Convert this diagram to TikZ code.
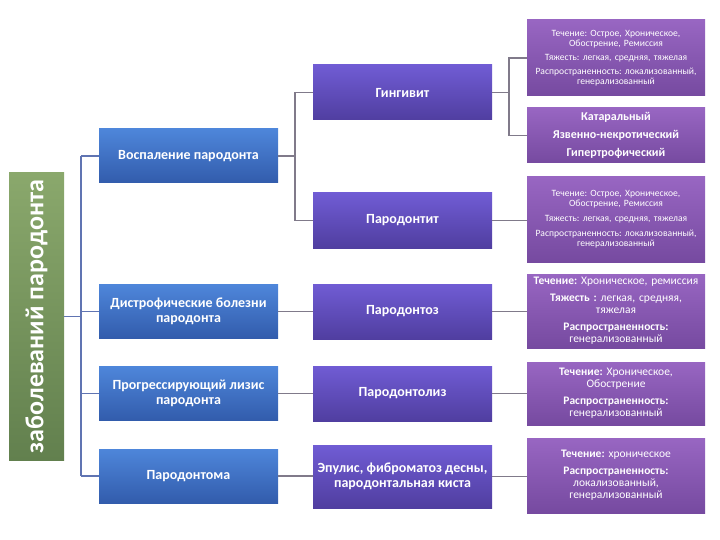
\documentclass[tikz,border=0pt]{standalone}
\usepackage{fontspec}
\setmainfont{Carlito}
\frenchspacing
\definecolor{bargreen}{RGB}{138,168,108}
\definecolor{bargreendark}{RGB}{98,128,78}
\definecolor{boxblue}{RGB}{78,134,218}
\definecolor{boxbluedark}{RGB}{50,92,172}
\definecolor{boxviolet}{RGB}{112,92,212}
\definecolor{boxvioletdark}{RGB}{80,62,160}
\definecolor{boxlilac}{RGB}{152,102,194}
\definecolor{boxlilacdark}{RGB}{118,74,160}
\definecolor{linegray}{RGB}{128,122,138}
\definecolor{lineblue}{RGB}{96,116,178}

\tikzset{
  basebox/.style={rectangle, inner sep=2pt, align=center, text=white},
  leftbox/.style={basebox, top color=boxblue, bottom color=boxbluedark,
    minimum width=179, minimum height=54, font=\fontsize{14}{15}\selectfont\bfseries},
  midbox/.style={basebox, top color=boxviolet, bottom color=boxvioletdark,
    minimum width=179, minimum height=55, font=\fontsize{14}{15}\selectfont\bfseries},
  rightbox/.style={basebox, top color=boxlilac, bottom color=boxlilacdark,
    minimum width=178, text width=174},
  smalltext/.style={font=\fontsize{9.6}{10}\selectfont},
  mediumtext/.style={font=\fontsize{11.5}{12}\selectfont},
  link/.style={draw=linegray, line width=1.5},
  trunklink/.style={draw=lineblue, line width=1.5}
}

\begin{document}
\begin{tikzpicture}[x=1pt, y=-1pt]
  \useasboundingbox (0,0) rectangle (720,540);

  % Заголовок
  \node[rectangle, top color=bargreen, bottom color=bargreendark,
        minimum width=55, minimum height=287] (bar) at (36.5,316.5) {};
  \node[rotate=90, text=white, font=\fontsize{26}{28}\selectfont\bfseries] (bartitle) at (bar.center) {заболеваний пародонта};

  % Группы
  \node[leftbox] (vosp)  at (188.5,156)   {Воспаление пародонта};
  \node[leftbox] (distr) at (188.5,311.5) {Дистрофические болезни\\пародонта};
  \node[leftbox] (lizis) at (188.5,393.5) {Прогрессирующий лизис\\пародонта};
  \node[leftbox] (toma)  at (188.5,476)   {Пародонтома};

  % Формы
  \node[midbox] (ging)   at (402.5,92.5)  {Гингивит};
  \node[midbox] (pdtit)  at (402.5,220.5) {Пародонтит};
  \node[midbox] (pdtoz)  at (402.5,311.5) {Пародонтоз};
  \node[midbox] (pdliz)  at (402.5,393.5) {Пародонтолиз};
  \node[midbox, minimum height=63] (epul) at (402.5,476.5) {Эпулис, фиброматоз десны,\\пародонтальная киста};

  % Характеристики
  \node[rightbox, smalltext, minimum height=76] (gingkurs) at (616,58)
    {Течение: Острое, Хроническое,\\Обострение, Ремиссия\\[4pt]
     Тяжесть: легкая, средняя, тяжелая\\[4pt]
     Распространенность: локализованный,\\генерализованный};
  \node[rightbox, minimum height=55, font=\fontsize{12}{18}\selectfont\bfseries] (gingform) at (616,135.5)
    {Катаральный\\Язвенно-некротический\\Гипертрофический};
  \node[rightbox, smalltext, minimum height=85] (titkurs) at (616,219.5)
    {Течение: Острое, Хроническое,\\Обострение, Ремиссия\\[5pt]
     Тяжесть: легкая, средняя, тяжелая\\[5pt]
     Распространенность: локализованный,\\генерализованный};
  \node[rightbox, mediumtext, minimum height=74] (tozkurs) at (616,311)
    {\textbf{Течение:} Хроническое, ремиссия\\[5pt]
     \textbf{Тяжесть :} легкая, средняя,\\тяжелая\\[5pt]
     \textbf{Распространенность:}\\генерализованный};
  \node[rightbox, mediumtext, minimum height=63] (lizkurs) at (616,393.5)
    {\textbf{Течение:} Хроническое,\\Обострение\\[5pt]
     \textbf{Распространенность:}\\генерализованный};
  \node[rightbox, mediumtext, minimum height=75] (epulkurs) at (616,475.5)
    {\textbf{Течение:} хроническое\\[5pt]
     \textbf{Распространенность:}\\локализованный,\\генерализованный};

  % Точки ветвления
  \coordinate (trunk) at (81,316.5);
  \coordinate (vjoin) at (295,156);
  \coordinate (gjoin) at (509,92.5);

  % Линии слева
  \draw[trunklink] (bar.east) -- (trunk);
  \draw[trunklink] (trunk |- vosp.west) -- (trunk |- toma.west);
  \foreach \grp in {vosp, distr, lizis, toma} {
    \draw[trunklink] (trunk |- \grp.west) -- (\grp.west);
  }

  % Линии к формам
  \draw[link] (vosp.east) -- (vjoin);
  \draw[link] (ging.west) -| (vjoin) |- (pdtit.west);
  \draw[link] (distr.east) -- (distr.east -| pdtoz.west);
  \draw[link] (lizis.east) -- (lizis.east -| pdliz.west);
  \draw[link] (toma.east) -- (toma.east -| epul.west);

  % Линии к характеристикам
  \draw[link] (ging.east) -- (gjoin);
  \draw[link] (gingkurs.west) -| (gjoin) |- (gingform.west);
  \foreach \from/\to in {pdtit/titkurs, pdtoz/tozkurs, pdliz/lizkurs, epul/epulkurs} {
    \draw[link] (\from.east) -- (\from.east -| \to.west);
  }
\end{tikzpicture}
\end{document}
